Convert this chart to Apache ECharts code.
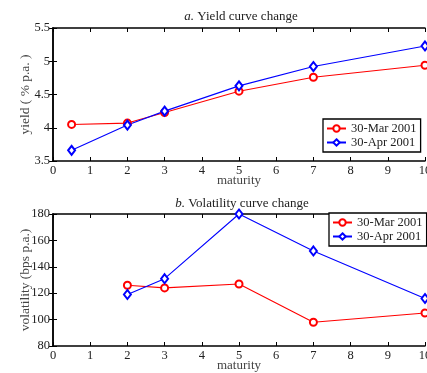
<!DOCTYPE html>
<html><head><meta charset="utf-8">
<script src="https://cdn.jsdelivr.net/npm/echarts@6/dist/echarts.min.js"></script>
<style>html,body{margin:0;padding:0;background:#fff}#c{width:427px;height:373px}</style>
</head><body><div id="c"></div>
<script>
const yieldMaturity = [0.5, 2, 3, 5, 7, 10];
const yieldMar = [4.05, 4.07, 4.23, 4.55, 4.76, 4.94];
const yieldApr = [3.66, 4.04, 4.25, 4.63, 4.92, 5.23];
const volMaturity = [2, 3, 5, 7, 10];
const volMar = [126, 124, 127, 98, 105];
const volApr = [119, 131, 180, 152, 116];
const seriesNames = ['30-Mar 2001', '30-Apr 2001'];

const FONT = 'Liberation Serif';
const TXT = '#222';
const NAMEC = '#444';
const pair = (xs, ys) => xs.map((x, i) => [x, ys[i]]);

function xAx(gi, pos, show) {
  return {
    type: 'value', gridIndex: gi, position: pos, min: 0, max: 10, interval: 1,
    axisLine: { show: true, lineStyle: { color: '#000', width: 1.5 } },
    axisTick: { show: true, inside: true, length: 4, lineStyle: { color: '#000' } },
    axisLabel: { show: show, color: TXT, fontFamily: FONT, fontSize: 12.5, margin: 3 },
    splitLine: { show: false },
    name: show ? 'maturity' : '', nameLocation: 'middle', nameGap: 13, nameMoveOverlap: false,
    nameTextStyle: { color: NAMEC, fontFamily: FONT, fontSize: 13 }
  };
}
function yAx(gi, pos, show, min, max, interval, name, gap) {
  return {
    type: 'value', gridIndex: gi, position: pos, min: min, max: max, interval: interval,
    axisLine: { show: true, lineStyle: { color: '#000', width: 1.5 } },
    axisTick: { show: true, inside: true, length: 4, lineStyle: { color: '#000' } },
    axisLabel: { show: show, color: TXT, fontFamily: FONT, fontSize: 12.5, margin: 3 },
    splitLine: { show: false },
    name: show ? name : '', nameLocation: 'middle', nameGap: gap, nameMoveOverlap: false,
    nameTextStyle: { color: NAMEC, fontFamily: FONT, fontSize: 13.5 }
  };
}
function ser(name, data, xi, yi, color, sym, size) {
  return {
    name: name, type: 'line', xAxisIndex: xi, yAxisIndex: yi, data: data,
    symbol: sym, symbolSize: size, showSymbol: true,
    lineStyle: { color: color, width: 1.1 }, itemStyle: { color: color, borderWidth: 1.2 },
    animation: false
  };
}
function legendAt(left, top) {
  return {
    orient: 'vertical', left: left, top: top, data: seriesNames,
    backgroundColor: '#fff', borderColor: '#000', borderWidth: 1.3,
    padding: [3, 4, 3, 3], itemGap: 1, itemWidth: 19, itemHeight: 8,
    textStyle: { color: TXT, fontFamily: FONT, fontSize: 12.5 }
  };
}
const titleStyle = { fontFamily: FONT, fontSize: 13, fontWeight: 'normal', color: TXT,
  rich: { i: { fontFamily: FONT, fontStyle: 'italic', fontSize: 13, color: TXT } } };

const chart = echarts.init(document.getElementById('c'), null, { renderer: 'canvas' });
chart.setOption({
  animation: false,
  title: [
    { text: '{i|a.} Yield curve change', left: 236, top: 5, textAlign: 'center', textStyle: titleStyle },
    { text: '{i|b.} Volatility curve change', left: 237, top: 192, textAlign: 'center', textStyle: titleStyle }
  ],
  grid: [
    { left: 53, right: 2, top: 28, bottom: 212, containLabel: false, outerBoundsMode: 'none' },
    { left: 53, right: 2, top: 214, bottom: 27, containLabel: false, outerBoundsMode: 'none' }
  ],
  xAxis: [xAx(0, 'bottom', true), xAx(0, 'top', false), xAx(1, 'bottom', true), xAx(1, 'top', false)],
  yAxis: [
    yAx(0, 'left', true, 3.5, 5.5, 0.5, 'yield ( % p.a. )', 21),
    yAx(0, 'right', false, 3.5, 5.5, 0.5, '', 0),
    yAx(1, 'left', true, 80, 180, 20, 'volatility (bps p.a.)', 21),
    yAx(1, 'right', false, 80, 180, 20, '', 0)
  ],
  legend: [legendAt(323, 119), legendAt(329, 213)],
  series: [
    ser(seriesNames[0], pair(yieldMaturity, yieldMar), 0, 0, '#ff0000', 'emptyCircle', 7),
    ser(seriesNames[1], pair(yieldMaturity, yieldApr), 0, 0, '#0000ff', 'emptyDiamond', [7, 9]),
    ser(seriesNames[0], pair(volMaturity, volMar), 2, 2, '#ff0000', 'emptyCircle', 7),
    ser(seriesNames[1], pair(volMaturity, volApr), 2, 2, '#0000ff', 'emptyDiamond', [7, 9])
  ]
});
</script></body></html>
